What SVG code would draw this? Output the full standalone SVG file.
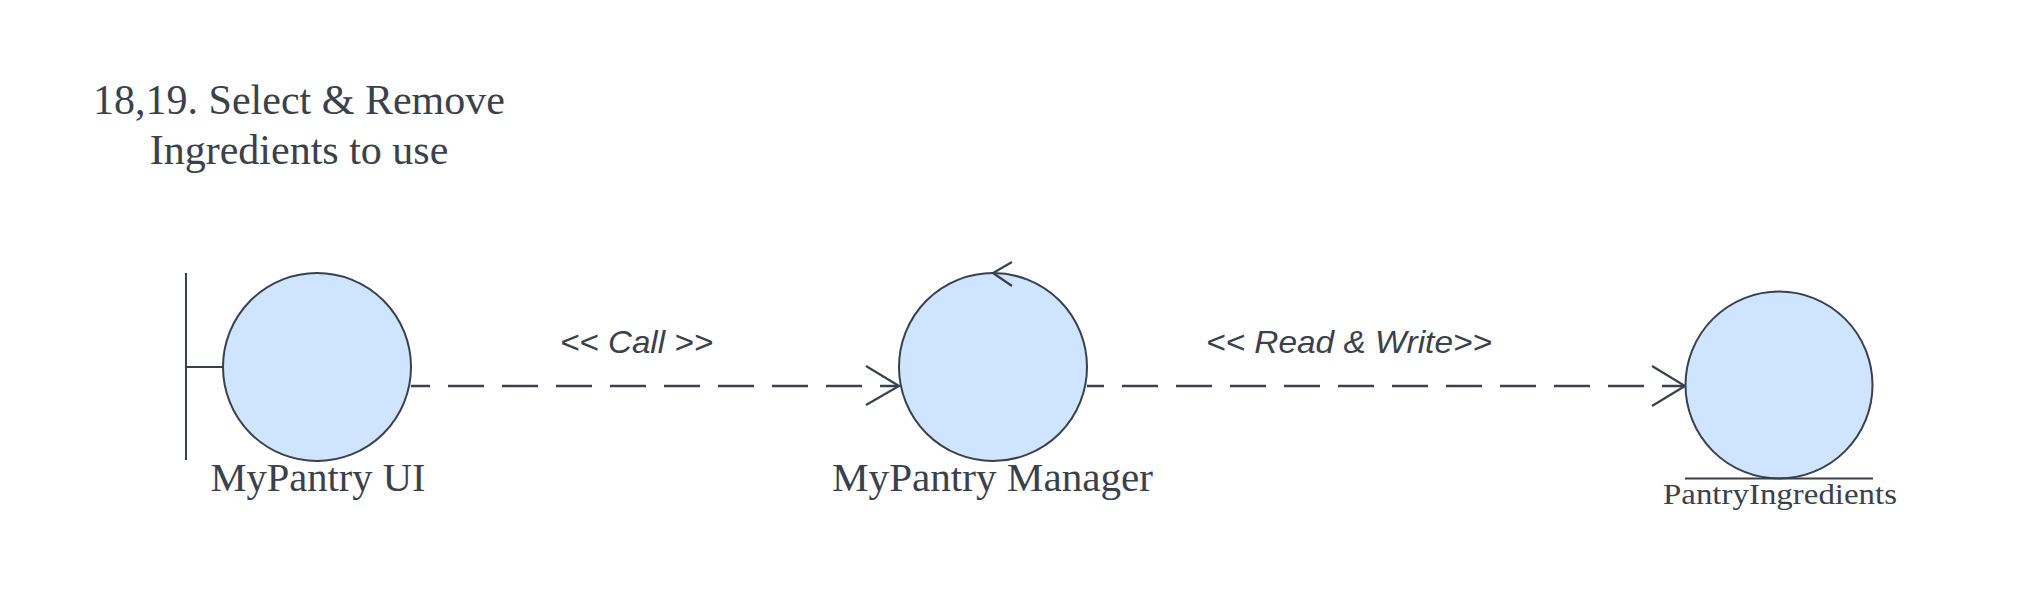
<svg xmlns="http://www.w3.org/2000/svg" width="2025" height="593" viewBox="0 0 2025 593">
<style>
.bg{fill:#ffffff}
.shape{fill:#cfe4ff;stroke:#3a414a;stroke-width:2}
.ln{fill:none;stroke:#3a414a;stroke-width:2}
.dash{fill:none;stroke:#3a414a;stroke-width:2.4;stroke-dasharray:36 18}
.head{fill:none;stroke:#3a414a;stroke-width:2.2;stroke-linejoin:miter}
.title{font-family:"Liberation Serif",serif;font-size:42px;fill:#3a414a;text-anchor:middle}
.lbl{font-family:"Liberation Serif",serif;fill:#3a414a;text-anchor:middle}
.clbl{font-family:"Liberation Sans",sans-serif;font-style:italic;font-size:32px;fill:#3a414a;text-anchor:middle}
</style>
<rect class="bg" x="0" y="0" width="2025" height="593"/>
<g id="title">
<text class="title" x="299" y="114">18,19. Select &amp; Remove</text>
<text class="title" x="299" y="164">Ingredients to use</text>
</g>
<g id="connectors">
<line class="dash" x1="411" y1="386" x2="897" y2="386" style="stroke-dashoffset:17"/>
<polyline class="head" points="866,366 899,386 866,405"/>
<text class="clbl" x="636.5" y="353" textLength="153" lengthAdjust="spacingAndGlyphs">&lt;&lt; Call &gt;&gt;</text>
<line class="dash" x1="1087" y1="386" x2="1683" y2="386" style="stroke-dashoffset:19"/>
<polyline class="head" points="1652,366 1685,386 1652,406"/>
<text class="clbl" x="1349" y="353" textLength="286" lengthAdjust="spacingAndGlyphs">&lt;&lt; Read &amp; Write&gt;&gt;</text>
</g>
<g id="node-mypantry-ui">
<line class="ln" x1="186" y1="273" x2="186" y2="460"/>
<line class="ln" x1="186" y1="367" x2="223" y2="367"/>
<circle class="shape" cx="317" cy="367" r="94"/>
<text class="lbl" x="318" y="491" font-size="39" textLength="215" lengthAdjust="spacingAndGlyphs">MyPantry UI</text>
</g>
<g id="node-mypantry-manager">
<circle class="shape" cx="993" cy="367" r="94"/>
<polyline class="head" points="1012,262 993,273 1012,286"/>
<text class="lbl" x="992.5" y="491" font-size="39" textLength="321" lengthAdjust="spacingAndGlyphs">MyPantry Manager</text>
</g>
<g id="node-pantry-ingredients">
<circle class="shape" cx="1779" cy="385" r="93.5"/>
<line class="ln" x1="1685" y1="478.5" x2="1873" y2="478.5"/>
<text class="lbl" x="1780" y="504" font-size="30" textLength="234" lengthAdjust="spacingAndGlyphs">PantryIngredients</text>
</g>
</svg>
